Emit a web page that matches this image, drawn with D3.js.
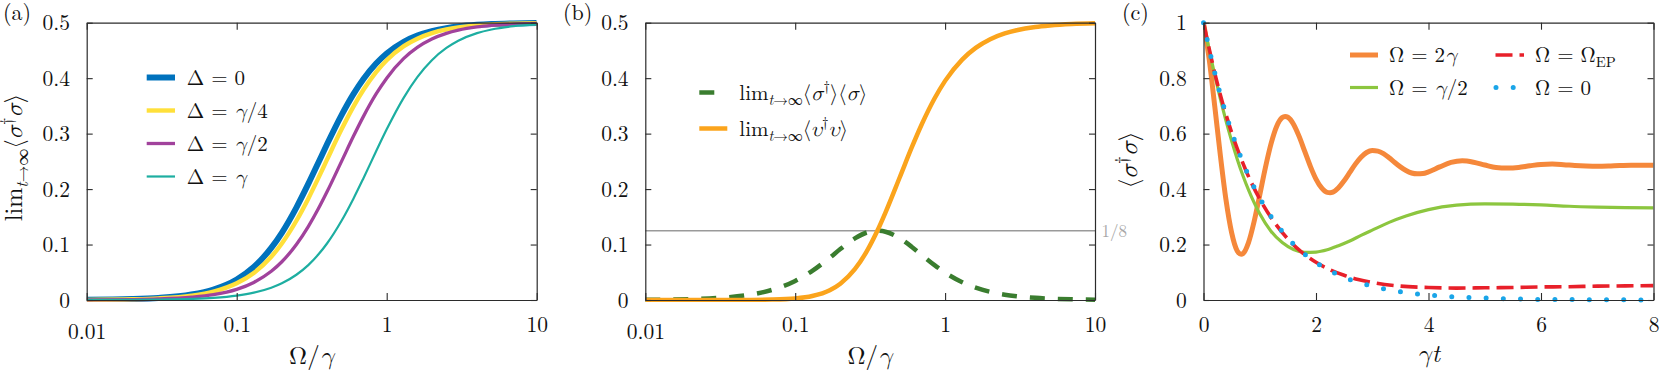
<!DOCTYPE html>
<html><head><meta charset="utf-8">
<script src="https://cdn.jsdelivr.net/npm/d3@7"></script>
<style>
body{margin:0;background:#fff;}
svg text{fill:#111;}
</style></head><body>
<svg id="chart" width="1661" height="372" font-family="Latin Modern Roman, Latin Modern Math, DejaVu Serif, serif"></svg>
<script>
// ---------------- data ----------------
const omegaRatio = [0.01,0.02,0.03,0.05,0.07,0.1,0.13,0.17,0.2,0.25,0.3,0.35,0.4,0.5,0.6,0.7,0.85,1,1.3,1.6,2,2.5,3,4,5,7,10];
const popDelta0 =       [0.0004,0.0016,0.0036,0.0098,0.0189,0.0370,0.0595,0.0939,0.1212,0.1667,0.2093,0.2475,0.2807,0.3333,0.3711,0.3984,0.4263,0.4444,0.4656,0.4767,0.4848,0.4902,0.4932,0.4961,0.4975,0.4987,0.4994];
const popDeltaQuarter = [0.0003,0.0013,0.0029,0.0079,0.0152,0.0301,0.0488,0.0780,0.1019,0.1429,0.1827,0.2197,0.2530,0.3077,0.3487,0.3791,0.4111,0.4324,0.4577,0.4712,0.4812,0.4878,0.4915,0.4952,0.4969,0.4984,0.4992];
const popDeltaHalf =    [0.0002,0.0008,0.0018,0.0050,0.0096,0.0192,0.0317,0.0518,0.0690,0.1000,0.1324,0.1644,0.1951,0.2500,0.2951,0.3311,0.3715,0.4000,0.4356,0.4555,0.4706,0.4808,0.4865,0.4923,0.4950,0.4975,0.4988];
const popDeltaGamma =   [0.0001,0.0003,0.0007,0.0020,0.0039,0.0079,0.0132,0.0221,0.0301,0.0455,0.0629,0.0819,0.1019,0.1429,0.1827,0.2197,0.2681,0.3077,0.3650,0.4019,0.4324,0.4545,0.4675,0.4812,0.4878,0.4937,0.4969];
const coherentPart =    [0.0004,0.0016,0.0036,0.0096,0.0182,0.0343,0.0525,0.0763,0.0918,0.1111,0.1217,0.1250,0.1231,0.1111,0.0957,0.0810,0.0629,0.0494,0.0321,0.0222,0.0147,0.0096,0.0068,0.0039,0.0025,0.0013,0.0006];
const incoherentPart =  [0.0000,0.0000,0.0000,0.0002,0.0007,0.0027,0.0071,0.0176,0.0294,0.0556,0.0876,0.1225,0.1576,0.2222,0.2755,0.3174,0.3634,0.3951,0.4335,0.4545,0.4702,0.4806,0.4864,0.4923,0.4950,0.4975,0.4988];

const tOmega2 = [0,0.1,0.2,0.3,0.4,0.5,0.6,0.67,0.7,0.8,0.9,1.0,1.1,1.2,1.3,1.4,1.45,1.5,1.6,1.7,1.8,1.9,2.0,2.1,2.2,2.25,2.3,2.4,2.5,2.6,2.7,2.8,2.9,3.0,3.1,3.2,3.3,3.4,3.5,3.6,3.7,3.8,3.9,4.0,4.2,4.4,4.6,4.8,5.0,5.2,5.4,5.6,5.8,6.0,6.2,6.4,6.6,6.8,7.0,7.2,7.4,7.6,7.8,8.0];
const popOmega2 = [1.000,0.870,0.699,0.521,0.361,0.243,0.177,0.165,0.167,0.207,0.283,0.379,0.477,0.563,0.626,0.658,0.662,0.659,0.634,0.590,0.536,0.482,0.436,0.404,0.388,0.387,0.389,0.405,0.430,0.460,0.490,0.515,0.532,0.539,0.537,0.528,0.513,0.496,0.480,0.467,0.458,0.455,0.456,0.462,0.480,0.496,0.502,0.497,0.487,0.478,0.476,0.478,0.484,0.489,0.490,0.488,0.485,0.483,0.482,0.483,0.485,0.486,0.486,0.486];
const tOmegaHalf = [0,0.1,0.2,0.3,0.4,0.5,0.6,0.7,0.8,0.9,1.0,1.2,1.4,1.6,1.8,2.0,2.2,2.4,2.6,2.8,3.0,3.3,3.6,4.0,4.5,5.0,5.5,6.0,6.5,7.0,7.5,8.0];
const popOmegaHalf = [1.000,0.903,0.811,0.725,0.646,0.574,0.508,0.449,0.397,0.351,0.311,0.248,0.207,0.182,0.172,0.173,0.181,0.196,0.213,0.233,0.252,0.280,0.303,0.326,0.342,0.347,0.346,0.343,0.338,0.335,0.333,0.332];
const tOmegaEP = [0,0.25,0.5,0.75,1.0,1.25,1.5,1.75,2.0,2.25,2.5,2.75,3.0,3.5,4.0,4.5,5.0,5.5,6.0,6.5,7.0,7.5,8.0];
const popOmegaEP = [1.000,0.778,0.604,0.469,0.364,0.283,0.220,0.172,0.136,0.109,0.089,0.074,0.063,0.050,0.045,0.043,0.044,0.045,0.047,0.048,0.050,0.051,0.052];
const tOmega0 = [0,0.2,0.4,0.6,0.8,1.0,1.2,1.4,1.6,1.8,2.0,2.5,3.0,3.5,4.0,4.5,5.0,5.5,6.0,6.5,7.0,7.5,8.0];
const popOmega0 = [1.000,0.819,0.670,0.549,0.449,0.368,0.301,0.247,0.202,0.165,0.135,0.082,0.050,0.030,0.018,0.011,0.007,0.004,0.002,0.0015,0.0009,0.0006,0.0003];

const logTicks = [0.01,0.1,1,10];
const logTickLabels = ["0.01","0.1","1","10"];
const yTicksAB = [0,0.1,0.2,0.3,0.4,0.5];
const yTickLabelsAB = ["0","0.1","0.2","0.3","0.4","0.5"];
const yTicksC = [0,0.2,0.4,0.6,0.8,1];
const yTickLabelsC = ["0","0.2","0.4","0.6","0.8","1"];
const tTicks = [0,2,4,6,8];
const tTickLabels = ["0","2","4","6","8"];
const oneEighth = 0.125;

// ---------------- layout ----------------
const FONT = "Latin Modern Roman, Latin Modern Math, DejaVu Serif, serif";
const svg = d3.select("#chart");
const TOP = 22.7, BOT = 300;
const TICKFONT = 21.5, LABFONT = 25, LEGFONT = 21;
const AXC = "#2b2b2b";

function math(sel, parts, size) {
  let shift = 0;
  sel.attr("font-family", FONT);
  parts.forEach(([s, st]) => {
    const t = sel.append("tspan").text(s);
    let target = 0, fs = size;
    if (st.indexOf("sub") >= 0) { target = 0.24 * size; fs = size * 0.7; }
    if (st.indexOf("sup") >= 0) { target = -0.42 * size; fs = size * 0.7; }
    t.attr("dy", target - shift).attr("font-size", fs);
    if (st === "i" || st === "subi" || st === "supi") t.attr("font-style", "italic");
    shift = target;
  });
}

function styleAxis(g) {
  g.attr("font-size", null).attr("font-family", FONT);
  g.selectAll("path.domain").attr("stroke", AXC).attr("stroke-width", 1.2);
  g.selectAll(".tick line").attr("stroke", AXC).attr("stroke-width", 1.1);
  g.selectAll("text").attr("font-size", TICKFONT).attr("fill", "#111");
}

function frame(x, y, xMajor, xMajorLab, xMinor, yMajor, yMajorLab, yMinor, isLog) {
  const L = x.range()[0], R = x.range()[1];
  const root = svg.append("g");
  const gb = root.append("g").attr("transform", `translate(0,${BOT})`);
  gb.call(d3.axisBottom(x).tickValues(xMinor).tickSize(-5).tickSizeOuter(0).tickFormat(""));
  gb.call(d3.axisBottom(x).tickValues(xMajor).tickSize(-7).tickSizeOuter(0)
    .tickFormat(d => xMajorLab[xMajor.indexOf(d)]));
  styleAxis(gb);
  gb.selectAll(".tick text").filter(d => xMajor.indexOf(d) >= 0)
    .attr("dy", null).attr("y", d => (isLog && d === 0.01) ? 339 - BOT : 332 - BOT);
  const gt = root.append("g").attr("transform", `translate(0,${TOP})`);
  gt.call(d3.axisTop(x).tickValues(xMinor).tickSize(-5).tickSizeOuter(0).tickFormat(""));
  gt.call(d3.axisTop(x).tickValues(xMajor).tickSize(-7).tickSizeOuter(0).tickFormat(""));
  styleAxis(gt);
  const gl = root.append("g").attr("transform", `translate(${L},0)`);
  gl.call(d3.axisLeft(y).tickValues(yMinor).tickSize(-6).tickSizeOuter(0).tickFormat(""));
  gl.call(d3.axisLeft(y).tickValues(yMajor).tickSize(-6).tickSizeOuter(0).tickPadding(16.7)
    .tickFormat(d => yMajorLab[yMajor.indexOf(d)]));
  styleAxis(gl);
  gl.selectAll(".tick text").attr("dy", null).attr("y", 7);
  const gr = root.append("g").attr("transform", `translate(${R},0)`);
  gr.call(d3.axisRight(y).tickValues(yMinor).tickSize(-6).tickSizeOuter(0).tickFormat(""));
  gr.call(d3.axisRight(y).tickValues(yMajor).tickSize(-6).tickSizeOuter(0).tickFormat(""));
  styleAxis(gr);
}

function logMinor() {
  const m = [];
  [0.01, 0.1, 1].forEach(dec => { for (let k = 2; k <= 9; k++) m.push(+(dec * k).toPrecision(3)); });
  return m;
}
function range(a, b, s) { const r = []; for (let v = a; v <= b + 1e-9; v += s) r.push(+v.toFixed(4)); return r; }

function clipFor(id, x0, x1) {
  svg.append("clipPath").attr("id", id).append("rect")
    .attr("x", x0).attr("y", TOP - 4).attr("width", x1 - x0).attr("height", BOT - TOP + 6);
}

function drawLine(xs, ys, x, y, color, width, clip, dash, cap) {
  const data = xs.map((d, i) => [d, ys[i]]);
  const line = d3.line().x(d => x(d[0])).y(d => y(d[1])).curve(d3.curveMonotoneX);
  const p = svg.append("path").datum(data).attr("d", line)
    .attr("fill", "none").attr("stroke", color).attr("stroke-width", width)
    .attr("stroke-linejoin", "round");
  if (clip) p.attr("clip-path", `url(#${clip})`);
  if (dash) p.attr("stroke-dasharray", dash);
  p.attr("stroke-linecap", cap || "butt");
  return p;
}

function legendLine(x0, x1, yy, color, width, dash, cap) {
  const p = svg.append("line").attr("x1", x0).attr("x2", x1).attr("y1", yy).attr("y2", yy)
    .attr("stroke", color).attr("stroke-width", width).attr("stroke-linecap", cap || "butt");
  if (dash) p.attr("stroke-dasharray", dash);
}
function legendText(x0, yy, parts) {
  const t = svg.append("text").attr("x", x0).attr("y", yy + 7).attr("font-size", LEGFONT);
  math(t, parts, LEGFONT);
}
function panelTag(x0, s) {
  svg.append("text").attr("x", x0).attr("y", 20).attr("font-size", 22).attr("font-family", FONT).text(s);
}

// ---------------- panel (a) ----------------
const xa = d3.scaleLog().domain([0.01, 10]).range([86.7, 536.7]);
const yab = d3.scaleLinear().domain([0, 0.5]).range([BOT, TOP]);
clipFor("clipA", 86.7, 536.7);
const colA = { d0: "#0072bd", d4: "#ffe03a", d2: "#a1429c", d1: "#1daea1" };
drawLine(omegaRatio, popDelta0, xa, yab, colA.d0, 6, "clipA");
drawLine(omegaRatio, popDeltaQuarter, xa, yab, colA.d4, 4.4, "clipA");
drawLine(omegaRatio, popDeltaHalf, xa, yab, colA.d2, 3.3, "clipA");
drawLine(omegaRatio, popDeltaGamma, xa, yab, colA.d1, 2.2, "clipA");
frame(xa, yab, logTicks, logTickLabels, logMinor(), yTicksAB, yTickLabelsAB, range(0.05, 0.45, 0.1), true);
panelTag(3, "(a)");
[[colA.d0, 6, [["Δ = 0", "r"]]],
 [colA.d4, 4.4, [["Δ = ", "r"], ["γ", "i"], ["/4", "r"]]],
 [colA.d2, 3.3, [["Δ = ", "r"], ["γ", "i"], ["/2", "r"]]],
 [colA.d1, 2.2, [["Δ = ", "r"], ["γ", "i"]]]].forEach((r, i) => {
  const yy = [77.5, 110.5, 143.5, 176.5][i];
  legendLine(146.7, 175, yy, r[0], r[1]);
  legendText(186.7, yy, r[2]);
});
{
  const t = svg.append("text").attr("x", 311.7).attr("y", 364).attr("font-size", LABFONT).attr("text-anchor", "middle");
  math(t, [["Ω/", "r"], ["γ", "i"]], LABFONT);
  const yl = svg.append("text").attr("transform", "translate(22,157.5) rotate(-90)")
    .attr("font-size", 24).attr("text-anchor", "middle");
  math(yl, [["lim", "r"], ["t", "subi"], ["→∞", "sub"], ["⟨", "r"], ["σ", "i"], ["†", "sup"], ["σ", "i"], ["⟩", "r"]], 24);
}

// ---------------- panel (b) ----------------
const xb = d3.scaleLog().domain([0.01, 10]).range([645.3, 1095]);
clipFor("clipB", 645.3, 1095);
svg.append("line").attr("x1", xb(0.01)).attr("x2", xb(10)).attr("y1", yab(oneEighth)).attr("y2", yab(oneEighth))
  .attr("stroke", "#9a9a9a").attr("stroke-width", 1.5);
svg.append("text").attr("x", 1101.5).attr("y", yab(oneEighth) + 6).attr("font-size", 17)
  .attr("font-family", FONT).style("fill", "#a8a8a8").text("1/8");
const colB = { green: "#3a7d2f", orange: "#fba41c" };
drawLine(omegaRatio, coherentPart, xb, yab, colB.green, 4.5, "clipB", "15,13");
drawLine(omegaRatio, incoherentPart, xb, yab, colB.orange, 4.5, "clipB");
frame(xb, yab, logTicks, logTickLabels, logMinor(), yTicksAB, yTickLabelsAB, range(0.05, 0.45, 0.1), true);
panelTag(563, "(b)");
legendLine(699.3, 727.3, 92.5, colB.green, 4.5, "15,13");
legendText(739.3, 92.5, [["lim", "r"], ["t", "subi"], ["→∞", "sub"], ["⟨", "r"], ["σ", "i"], ["†", "sup"], ["⟩⟨", "r"], ["σ", "i"], ["⟩", "r"]]);
legendLine(699.3, 727.3, 128.5, colB.orange, 4.5);
legendText(739.3, 128.5, [["lim", "r"], ["t", "subi"], ["→∞", "sub"], ["⟨", "r"], ["υ", "i"], ["†", "sup"], ["υ", "i"], ["⟩", "r"]]);
{
  const t = svg.append("text").attr("x", 870).attr("y", 364).attr("font-size", LABFONT).attr("text-anchor", "middle");
  math(t, [["Ω/", "r"], ["γ", "i"]], LABFONT);
}

// ---------------- panel (c) ----------------
const xc = d3.scaleLinear().domain([0, 8]).range([1203.5, 1653.5]);
const yc = d3.scaleLinear().domain([0, 1]).range([BOT, TOP]);
clipFor("clipC", 1203.5, 1653.5);
const colC = { orange: "#f5883b", green: "#8cc63f", red: "#e8202a", blue: "#1aa5e8" };
drawLine(tOmega2, popOmega2, xc, yc, colC.orange, 5, "clipC");
drawLine(tOmegaHalf, popOmegaHalf, xc, yc, colC.green, 3.2, "clipC");
drawLine(tOmegaEP, popOmegaEP, xc, yc, colC.red, 3.6, "clipC", "17,7");
drawLine(tOmega0, popOmega0, xc, yc, colC.blue, 5, null, "0,17.2", "round");
frame(xc, yc, tTicks, tTickLabels, range(1, 7, 2), yTicksC, yTickLabelsC, range(0.1, 0.9, 0.2), false);
panelTag(1122, "(c)");
legendLine(1350, 1378, 55, colC.orange, 5);
legendText(1389, 55, [["Ω = 2", "r"], ["γ", "i"]]);
legendLine(1350, 1378, 87.5, colC.green, 3.2);
legendText(1389, 87.5, [["Ω = ", "r"], ["γ", "i"], ["/2", "r"]]);
legendLine(1495.5, 1524, 55, colC.red, 3.6, "17,7");
legendText(1535, 55, [["Ω = Ω", "r"], ["EP", "sub"]]);
legendLine(1496, 1524, 87.5, colC.blue, 5, "0,17.2", "round");
legendText(1535, 87.5, [["Ω = 0", "r"]]);
{
  const t = svg.append("text").attr("x", 1428.5).attr("y", 362).attr("font-size", LABFONT).attr("text-anchor", "middle");
  math(t, [["γt", "i"]], LABFONT);
  const yl = svg.append("text").attr("transform", "translate(1137,160) rotate(-90)")
    .attr("font-size", LABFONT).attr("text-anchor", "middle");
  math(yl, [["⟨", "r"], ["σ", "i"], ["†", "sup"], ["σ", "i"], ["⟩", "r"]], LABFONT);
}
</script>
</body></html>
